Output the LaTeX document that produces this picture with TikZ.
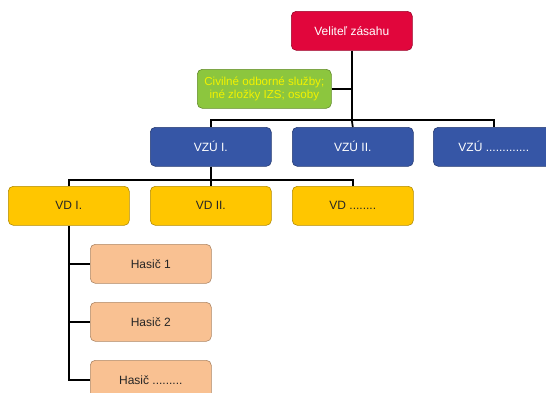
\documentclass[tikz,border=0pt]{standalone}
\usepackage{fontspec}
\setmainfont{Liberation Sans}
\begin{document}
\begin{tikzpicture}[x=1pt,y=-1pt,
  box/.style={draw=#1!70!black, line width=0.6pt, rounded corners=5pt,
    minimum width=121pt, minimum height=39pt, inner sep=0pt, anchor=north west,
    font=\fontsize{12}{14}\selectfont},
  redbox/.style={box=velred, fill=velred, text=white},
  greenbox/.style={box=civgreen, fill=civgreen, text=civtext, minimum width=134pt,
    font=\fontsize{11.6}{13}\selectfont, align=center},
  bluebox/.style={box=vzublue, fill=vzublue, text=white},
  yellowbox/.style={box=vdyellow, fill=vdyellow, text=black!85},
  peachbox/.style={box=hpeach, fill=hpeach, text=black!85},
  link/.style={line width=1.8pt, black}]
\definecolor{velred}{HTML}{E1063C}
\definecolor{civgreen}{HTML}{8CC63E}
\definecolor{civtext}{HTML}{F2F200}
\definecolor{vzublue}{HTML}{3656A6}
\definecolor{vdyellow}{HTML}{FFC600}
\definecolor{hpeach}{HTML}{F9C192}
\useasboundingbox (0,0) rectangle (546,392);
\begin{scope}
\clip (0,0) rectangle (546,392);
% top level
\node[redbox] (vel) at (291,11) {Veliteľ zásahu};
\node[greenbox] (civ) at (197,69) {Civilné odborné služby;\\iné zložky IZS; osoby};
% units
\node[bluebox] (vzu1) at (150,127) {VZÚ I.};
\node[bluebox] (vzu2) at (292,127) {VZÚ II.};
\node[bluebox] (vzu3) at (433,127) {VZÚ .............};
% sections
\node[yellowbox] (vd1) at (8,186) {VD I.};
\node[yellowbox] (vd2) at (150,186) {VD II.};
\node[yellowbox] (vd3) at (292,186) {VD ........};
% firefighters
\node[peachbox] (h1) at (90,244) {Hasič 1};
\node[peachbox] (h2) at (90,302) {Hasič 2};
\node[peachbox] (h3) at (90,360) {Hasič .........};
% connectors
\coordinate (busA) at (vel.south |- 0,120);
\draw[link] (vel.south) -- (busA);
\draw[link] (civ.east) -- (civ.east -| vel.south);
\draw[link] (vzu1.north) |- (busA) -| (vzu3.north);
\draw[link] (busA) -- (vzu2.north);
\coordinate (busB) at (vzu1.south |- 0,180);
\draw[link] (vzu1.south) -- (busB);
\draw[link] (vd1.north) |- (busB) -| (vd3.north);
\draw[link] (busB) -- (vd2.north);
\coordinate (spine) at (vd1.south |- h3.west);
\draw[link] (vd1.south) -- (spine) -- (h3.west);
\draw[link] (h1.west -| vd1.south) -- (h1.west);
\draw[link] (h2.west -| vd1.south) -- (h2.west);
\end{scope}
\end{tikzpicture}
\end{document}
